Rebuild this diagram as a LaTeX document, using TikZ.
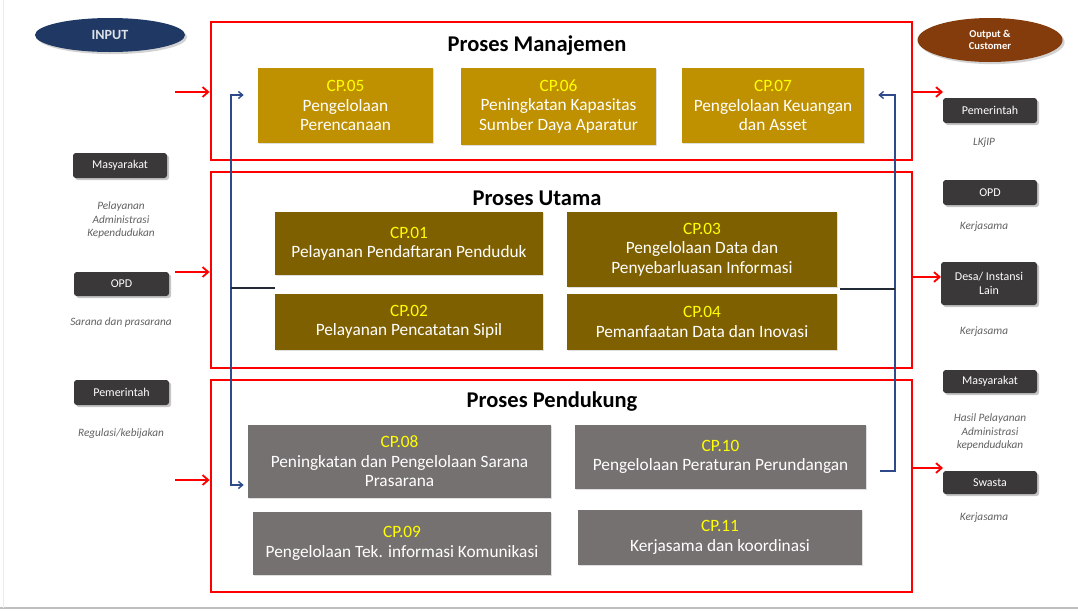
\documentclass[tikz,border=0pt]{standalone}
\usepackage{fontspec}
\setmainfont{Carlito}
\usetikzlibrary{shadows,arrows.meta,shapes.geometric}
\definecolor{gold}{HTML}{BF9000}
\definecolor{olive}{HTML}{7F6000}
\definecolor{greybox}{HTML}{767171}
\definecolor{darkbox}{HTML}{3A3838}
\definecolor{navy}{HTML}{1F3864}
\definecolor{brownell}{HTML}{843C0C}
\definecolor{cpyellow}{HTML}{FFFF00}
\definecolor{linkblue}{HTML}{2F4A8A}
\definecolor{linkdark}{HTML}{222A35}
\newcommand\bx[7]{\node[#6, minimum width={(#4-#2)*0.025cm}, minimum height={(#5-#3)*0.025cm}] (#1) at ({(#2+#4)/2},{(#3+#5)/2}) {#7};}
\newcommand\cp[1]{{\color{cpyellow}#1}\\}
\tikzset{
  procframe/.style={draw=red, line width=2pt, inner sep=0pt},
  proctitle/.style={font=\bfseries\fontsize{16}{18}\selectfont, text=black},
  cpbox/.style={inner sep=0pt, align=center, text=white, font=\fontsize{12.3}{13.8}\selectfont, drop shadow={opacity=0.25, shadow xshift=1pt, shadow yshift=-1pt}},
  mbox/.style={cpbox, fill=gold},
  ubox/.style={cpbox, fill=olive},
  pbox/.style={cpbox, fill=greybox},
  sidebox/.style={fill=darkbox, rounded corners=2pt, inner sep=0pt, align=center, text=white, font=\fontsize{8.5}{10}\selectfont, drop shadow={opacity=0.45, shadow xshift=1.5pt, shadow yshift=-1.5pt}},
  sidenote/.style={font=\itshape\fontsize{8}{9.5}\selectfont, text=black!62, align=center},
  redarrow/.style={draw=red, line width=1.3pt, -{Straight Barb[length=4pt,width=7pt]}},
  bluelink/.style={draw=linkblue, line width=1pt},
  bluearrow/.style={bluelink, -{Straight Barb[length=3pt,width=5pt]}},
  darklink/.style={draw=linkdark, line width=1.6pt},
}
\begin{document}
\begin{tikzpicture}[x=0.025cm,y=-0.025cm]
\useasboundingbox (0,0) rectangle (1078,613);
\fill[white] (0,0) rectangle (1078,613);
\draw[black!25, line width=1pt] (0,608) -- (1078,608);
\draw[black!8, line width=0.6pt] (3,0) -- (3,608);

% ellipses
\node[ellipse, fill=navy, minimum width=150*0.025cm, minimum height=34*0.025cm, inner sep=0pt, text=white!85!navy, font=\bfseries\fontsize{10}{11}\selectfont, drop shadow={opacity=0.35, shadow xshift=1.5pt, shadow yshift=-1.5pt}] (input) at (110,35) {INPUT};
\node[ellipse, fill=brownell, minimum width=145*0.025cm, minimum height=44*0.025cm, inner sep=0pt, text=white, align=center, font=\bfseries\fontsize{7.5}{8.5}\selectfont, drop shadow={opacity=0.35, shadow xshift=1.5pt, shadow yshift=-1.5pt}] (output) at (990,40) {Output \&\\Customer};

% process frames
\bx{manajemen}{211}{22}{912}{160}{procframe}{}
\bx{utama}{211}{172}{912}{368}{procframe}{}
\bx{pendukung}{211}{380}{912}{592}{procframe}{}
\node[proctitle] (tman) at (537,46) {Proses Manajemen};
\node[proctitle] (tuta) at (537,198) {Proses Utama};
\node[proctitle] (tpen) at (552,402) {Proses Pendukung};

% manajemen
\bx{cp05}{258}{68}{433}{143}{mbox}{\cp{CP.05}Pengelolaan\\Perencanaan}
\bx{cp06}{461}{68}{656}{145}{mbox}{\cp{CP.06}Peningkatan Kapasitas\\Sumber Daya Aparatur}
\bx{cp07}{682}{68}{864}{143}{mbox}{\cp{CP.07}Pengelolaan Keuangan\\dan Asset}

% utama
\bx{cp01}{275}{212}{543}{275}{ubox}{\cp{CP.01}Pelayanan Pendaftaran Penduduk}
\bx{cp02}{275}{294}{543}{350}{ubox}{\cp{CP.02}Pelayanan Pencatatan Sipil}
\bx{cp03}{567}{212}{837}{287}{ubox}{\cp{CP.03}Pengelolaan Data dan\\Penyebarluasan Informasi}
\bx{cp04}{567}{294}{837}{350}{ubox}{\cp{CP.04}Pemanfaatan Data dan Inovasi}

% pendukung
\bx{cp08}{248}{425}{551}{498}{pbox}{\cp{CP.08}Peningkatan dan Pengelolaan Sarana\\Prasarana}
\bx{cp09}{253}{512}{551}{575}{pbox}{\cp{CP.09}Pengelolaan Tek. informasi Komunikasi}
\bx{cp10}{575}{425}{866}{489}{pbox}{\cp{CP.10}Pengelolaan Peraturan Perundangan}
\bx{cp11}{578}{510}{862}{565}{pbox}{\cp{CP.11}Kerjasama dan koordinasi}

% left inputs
\bx{inmas}{73}{153}{167}{178}{sidebox}{Masyarakat}
\node[sidenote] (inmasn) at (121,220) {Pelayanan\\Administrasi\\Kependudukan};
\bx{inopd}{74}{272}{169}{296}{sidebox}{OPD}
\node[sidenote] (inopdn) at (121,322) {Sarana dan prasarana};
\bx{inpem}{74}{380}{169}{405}{sidebox}{Pemerintah}
\node[sidenote] (inpemn) at (121,434) {Regulasi/kebijakan};

% right outputs
\bx{outpem}{943}{98}{1037}{123}{sidebox}{Pemerintah}
\node[sidenote] (outpemn) at (984,143) {LKjIP};
\bx{outopd}{943}{180}{1037}{205}{sidebox}{OPD}
\node[sidenote] (outopdn) at (984,227) {Kerjasama};
\bx{outdesa}{941}{262}{1037}{305}{sidebox}{Desa/ Instansi\\Lain};
\node[sidenote] (outdesan) at (984,332) {Kerjasama};
\bx{outmas}{943}{370}{1037}{393}{sidebox}{Masyarakat}
\node[sidenote] (outmasn) at (990,432) {Hasil Pelayanan\\Administrasi\\kependudukan};
\bx{outswa}{943}{471}{1037}{494}{sidebox}{Swasta}
\node[sidenote] (outswan) at (984,518) {Kerjasama};

% red arrows
\coordinate (ra1) at (175,92);
\coordinate (ra2) at (175,272);
\coordinate (ra3) at (175,480);
\draw[redarrow] (ra1) -- (ra1 -| manajemen.west);
\draw[redarrow] (ra2) -- (ra2 -| utama.west);
\draw[redarrow] (ra3) -- (ra3 -| pendukung.west);
\coordinate (rb1) at (943,92);
\coordinate (rb2) at (941,277);
\coordinate (rb3) at (943,468);
\draw[redarrow] (rb1 -| manajemen.east) -- (rb1);
\draw[redarrow] (rb2 -| utama.east) -- (rb2);
\draw[redarrow] (rb3 -| pendukung.east) -- (rb3);

% blue links
\coordinate (lt) at (231,95);
\coordinate (lb) at (231,485);
\coordinate (rt) at (895,95);
\coordinate (rbt) at (895,471);
\draw[bluearrow] (lb) -- (lt) -- ([xshift=-14*0.025cm]lt -| cp05.west);
\draw[bluearrow] (lt) -- (lb) -- ([xshift=-4*0.025cm]lb -| cp08.west);
\draw[bluearrow] (rbt) -- (rt) -- ([xshift=14*0.025cm]rt -| cp07.east);
\draw[bluelink] (rt) -- (rbt) -- ([xshift=14*0.025cm]rbt -| cp10.east);
\coordinate (lm) at (231,288);
\coordinate (rm) at (895,289);
\draw[darklink] (lm) -- (lm -| cp01.west);
\draw[darklink] ([xshift=3*0.025cm]rm -| cp04.east) -- (rm);
\end{tikzpicture}
\end{document}
